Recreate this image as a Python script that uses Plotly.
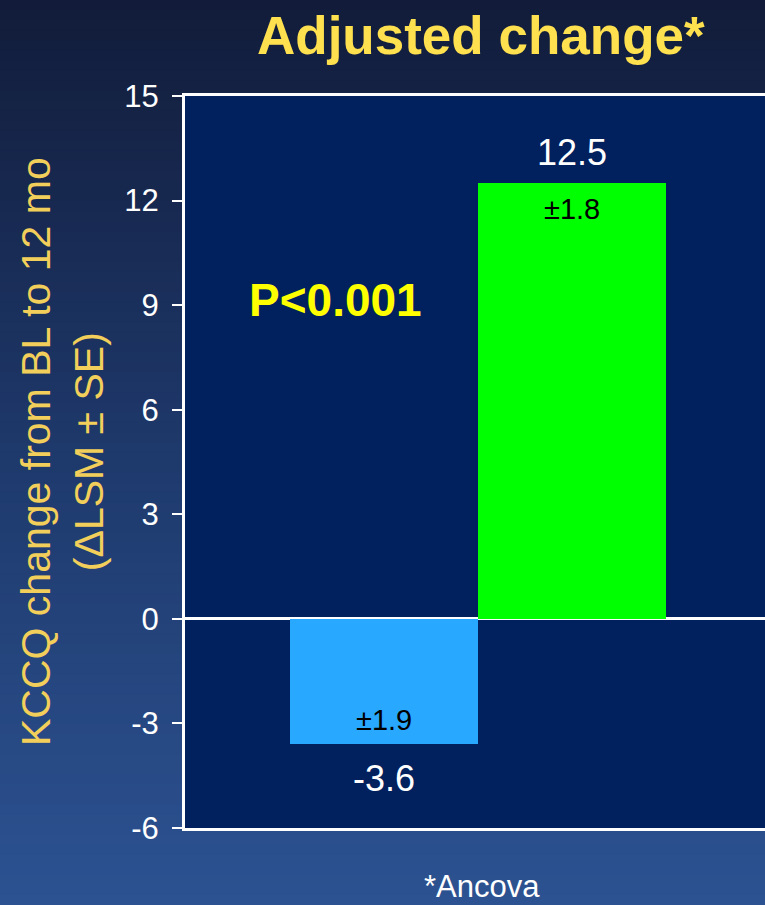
import plotly.graph_objects as go

# ---- data ----
groups = [0, 1]                 # two treatment groups (unlabelled in the chart)
values = [-3.6, 12.5]           # adjusted change (ΔLSM)
se_labels = ["±1.9", "±1.8"]    # standard errors
bar_colors = ["#29a8ff", "#00ff00"]
yticks = [-6, -3, 0, 3, 6, 9, 12, 15]

W, H = 765, 905
ML, MR, MT, MB = 185, 0, 96, 77
PW, PH = W - ML - MR, H - MT - MB

def px_x(px):
    return (px - ML) / PW

def px_y(py):
    return (H - MB - py) / PH

FONT = "Liberation Sans, Arial, sans-serif"

fig = go.Figure()
fig.add_trace(go.Bar(
    x=groups, y=values, width=1.0,
    marker=dict(color=bar_colors, line=dict(width=0)),
    hoverinfo="skip", showlegend=False,
))

# ---- gradient background via strips ----
top = (18, 28, 58)
mid = (30, 57, 108)
bot = (44, 82, 145)
N = 90
shapes = []
for i in range(N):
    t = i / (N - 1)
    if t < 0.5:
        a, b, u = top, mid, t / 0.5
    else:
        a, b, u = mid, bot, (t - 0.5) / 0.5
    c = tuple(round(a[k] + (b[k] - a[k]) * u) for k in range(3))
    y0 = i * H / N
    y1 = (i + 1) * H / N + 1
    shapes.append(dict(type="rect", xref="paper", yref="paper",
                       x0=px_x(0), x1=px_x(W), y0=px_y(y1), y1=px_y(y0),
                       fillcolor="rgb(%d,%d,%d)" % c, line=dict(width=0),
                       layer="below"))
# plot area fill
shapes.append(dict(type="rect", xref="paper", yref="paper", x0=0, x1=1, y0=0, y1=1,
                   fillcolor="#00205e", line=dict(width=0), layer="below"))

annotations = []
# value labels and SE labels
for x, v, s in zip(groups, values, se_labels):
    pos = v > 0
    annotations.append(dict(x=x, y=v, xref="x", yref="y", text=f"{v:.1f}",
                            showarrow=False, yanchor="middle",
                            yshift=31 if pos else -34,
                            font=dict(family=FONT, size=36, color="white")))
    annotations.append(dict(x=x, y=v, xref="x", yref="y", text=s,
                            showarrow=False, yanchor="middle",
                            yshift=-26 if pos else 24,
                            font=dict(family=FONT, size=29, color="black")))

annotations.append(dict(x=-0.255, y=9.15, xref="x", yref="y", text="<b>P<0.001</b>",
                        showarrow=False, font=dict(family=FONT, size=46, color="#ffff00")))
annotations.append(dict(x=px_x(481), y=px_y(35), xref="paper", yref="paper",
                        text="<b>Adjusted change*</b>", showarrow=False,
                        xanchor="center", yanchor="middle",
                        font=dict(family=FONT, size=53, color="#ffe04f")))
annotations.append(dict(x=px_x(62), y=px_y(452), xref="paper", yref="paper",
                        text="KCCQ change from BL to 12 mo<br>(ΔLSM ± SE)",
                        textangle=-90, showarrow=False, align="center",
                        xanchor="center", yanchor="middle",
                        font=dict(family=FONT, size=41, color="#f2cf5b")))
annotations.append(dict(x=px_x(482), y=px_y(886), xref="paper", yref="paper",
                        text="*Ancova", showarrow=False,
                        xanchor="center", yanchor="middle",
                        font=dict(family=FONT, size=31, color="white")))

fig.update_layout(
    width=W, height=H,
    margin=dict(l=ML, r=MR, t=MT, b=MB, pad=0),
    paper_bgcolor="#1e396c",
    plot_bgcolor="rgba(0,0,0,0)",
    bargap=0,
    shapes=shapes,
    annotations=annotations,
    xaxis=dict(range=[-1.058, 2.027], showticklabels=False, ticks="",
               showgrid=False, zeroline=False, showline=True, mirror=True,
               linecolor="white", linewidth=3),
    yaxis=dict(range=[-6, 15], tickvals=yticks, ticktext=[str(t) for t in yticks],
               ticks="outside", ticklen=10, tickwidth=2, tickcolor="white",
               ticklabelstandoff=7,
               tickfont=dict(family=FONT, size=31, color="white"),
               showgrid=False, zeroline=True, zerolinecolor="white", zerolinewidth=3,
               showline=True, linecolor="white", linewidth=3),
)

fig.write_html("out.html")
